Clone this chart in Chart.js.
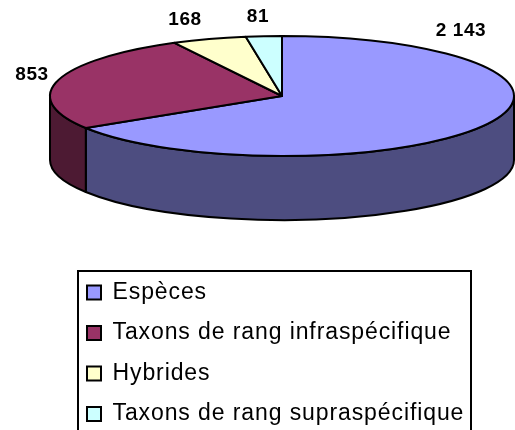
<!DOCTYPE html>
<html>
<head>
<meta charset="utf-8">
<title>Taxons</title>
<script src="https://cdn.jsdelivr.net/npm/chart.js@4"></script>
<style>
  html, body { margin: 0; padding: 0; background: #fff; overflow: hidden; }
</style>
</head>
<body>
<canvas id="pieChart" width="515" height="430"></canvas>
<script>
"use strict";

const categories = [
  "Espèces",
  "Taxons de rang infraspécifique",
  "Hybrides",
  "Taxons de rang supraspécifique",
];
const values = [2143, 853, 168, 81];

const topColors = ["#9999FF", "#993366", "#FFFFCC", "#CCFFFF"];
const wallColors = ["#4D4D80", "#4D1A33", "#80806A", "#6A8080"];
// where the value labels sit in the reference (they do not follow the slices)
const labelSpots = [[461, 31], [32, 75], [185, 20], [258, 17]];

const FONT = '"Liberation Sans", Arial, sans-serif';
const PIE = { x: 282, y: 96, rx: 232, ry: 60, depth: 64 };

function formatValue(v) {
  return String(v).replace(/\B(?=(\d{3})+$)/g, " ");
}

const flatPie3d = {
  id: "flatPie3d",
  beforeLayout(chart) {
    // the legend text is spaced out in the reference
    chart.ctx.letterSpacing = "0.9px";
  },
  afterLayout(chart) {
    // the legend runs past the bottom of the page
    const legend = chart.legend;
    legend.top += 20;
    legend.bottom += 20;
  },
  beforeDatasetsDraw(chart) {
    const ctx = chart.ctx;
    const arcs = chart.getDatasetMeta(0).data;
    ctx.save();
    ctx.lineWidth = 2;
    ctx.strokeStyle = "#000";
    ctx.lineJoin = "round";

    // walls, only the front half of the ellipse shows
    arcs.forEach((arc, i) => {
      const { startAngle, endAngle } = arc.getProps(["startAngle", "endAngle"], true);
      const from = Math.max(startAngle, 0);
      const to = Math.min(endAngle, Math.PI);
      if (to <= from) return;
      ctx.beginPath();
      ctx.ellipse(PIE.x, PIE.y, PIE.rx, PIE.ry, 0, from, to);
      ctx.ellipse(PIE.x, PIE.y + PIE.depth, PIE.rx, PIE.ry, 0, to, from, true);
      ctx.closePath();
      ctx.fillStyle = wallColors[i];
      ctx.fill();
      ctx.stroke();
    });

    // top face
    arcs.forEach((arc) => {
      const { startAngle, endAngle } = arc.getProps(["startAngle", "endAngle"], true);
      ctx.beginPath();
      ctx.moveTo(PIE.x, PIE.y);
      ctx.ellipse(PIE.x, PIE.y, PIE.rx, PIE.ry, 0, startAngle, endAngle);
      ctx.closePath();
      ctx.fillStyle = arc.options.backgroundColor;
      ctx.fill();
      ctx.stroke();
    });

    // value labels
    ctx.fillStyle = "#000";
    ctx.font = "bold 19px " + FONT;
    ctx.letterSpacing = "0.6px";
    ctx.textAlign = "center";
    ctx.textBaseline = "middle";
    values.forEach((v, i) => {
      ctx.fillText(formatValue(v), labelSpots[i][0], labelSpots[i][1]);
    });
    ctx.restore();
    return false;
  },
  afterDraw(chart) {
    // frame round the legend, its bottom edge falls off the page
    const legend = chart.legend;
    const ctx = chart.ctx;
    ctx.save();
    ctx.lineWidth = 2;
    ctx.strokeStyle = "#000";
    ctx.strokeRect(legend.left + 8.5, legend.bottom - 172, 393, 180);
    ctx.restore();
  },
};

new Chart(document.getElementById("pieChart").getContext("2d"), {
  type: "pie",
  data: {
    labels: categories,
    datasets: [
      {
        data: values,
        backgroundColor: topColors,
        borderColor: "#000",
        borderWidth: 2,
      },
    ],
  },
  options: {
    responsive: false,
    animation: false,
    layout: { padding: { left: 69.5, top: 200, bottom: 7 } },
    plugins: {
      tooltip: { enabled: false },
      legend: {
        position: "left",
        align: "end",
        maxWidth: 430,
        labels: {
          boxWidth: 14,
          boxHeight: 14,
          padding: 17.5,
          color: "#000",
          font: { family: FONT, size: 23 },
        },
      },
    },
  },
  plugins: [flatPie3d],
});
</script>
</body>
</html>
